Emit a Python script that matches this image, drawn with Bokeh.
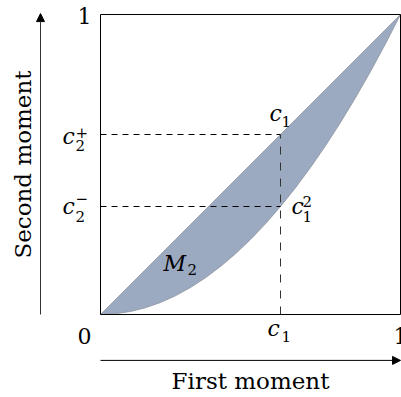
import math
from bokeh.plotting import figure
from bokeh.models import Range1d, Arrow, NormalHead
from bokeh.core.properties import value
from bokeh.embed import file_html
from bokeh.resources import INLINE

# ---- data ----
c1 = 0.6
curve_x = [0.0, 0.05, 0.1, 0.15, 0.2, 0.25, 0.3, 0.35, 0.4, 0.45, 0.5,
           0.55, 0.6, 0.65, 0.7, 0.75, 0.8, 0.85, 0.9, 0.95, 1.0]
upper_y = [0.0, 0.05, 0.1, 0.15, 0.2, 0.25, 0.3, 0.35, 0.4, 0.45, 0.5,
           0.55, 0.6, 0.65, 0.7, 0.75, 0.8, 0.85, 0.9, 0.95, 1.0]
lower_y = [0.0, 0.0025, 0.01, 0.0225, 0.04, 0.0625, 0.09, 0.1225, 0.16, 0.2025, 0.25,
           0.3025, 0.36, 0.4225, 0.49, 0.5625, 0.64, 0.7225, 0.81, 0.9025, 1.0]
x_tick_labels = ["0", "c", "1"]
y_tick_labels = ["1", "c", "c"]
x_title = "First moment"
y_title = "Second moment"
region_label = "M"

FONT = value("'DejaVu Serif', 'Liberation Serif', serif")
W, H = 401, 397
PAD_L, PAD_T, SIDE = 100, 14, 300

p = figure(width=W, height=H, output_backend="svg", toolbar_location=None,
           x_range=Range1d(-PAD_L / SIDE, (W - PAD_L) / SIDE),
           y_range=Range1d(1 - (H - PAD_T) / SIDE, 1 + PAD_T / SIDE),
           x_axis_type=None, y_axis_type=None, min_border=0,
           outline_line_color=None, background_fill_color="white",
           border_fill_color="white")

# shaded region between y = x and y = x^2
p.varea(x=curve_x, y1=lower_y, y2=upper_y, fill_color="#9ba9c1")
p.line(curve_x, lower_y, line_color="#8e949e", line_width=0.8)
p.line(curve_x, upper_y, line_color="#8e949e", line_width=0.8)

# frame
p.quad(left=[0], right=[1], bottom=[0], top=[1], fill_color=None,
       line_color="black", line_width=1)

# dashed guide lines
p.line([0, c1], [c1, c1], line_color="black", line_width=1, line_dash="6 5")
p.line([0, c1], [c1 ** 2, c1 ** 2], line_color="black", line_width=1, line_dash="6 5")
p.line([c1, c1], [0, c1], line_color="#333333", line_width=1, line_dash="8 8")

# arrows
p.add_layout(Arrow(end=NormalHead(size=8, fill_color="black", line_color="black"),
                   x_start=-0.2, y_start=0, x_end=-0.2, y_end=1.003,
                   line_color="#333333", line_width=1))
p.add_layout(Arrow(end=NormalHead(size=8, fill_color="black", line_color="black"),
                   x_start=0, y_start=-0.153, x_end=1.0, y_end=-0.153,
                   line_color="black", line_width=1))


def put(x, y, txt, dx, dy, size, italic=False, align="left", angle=0.0):
    shift = round(0.3 * size)
    if angle:
        dx -= shift
    else:
        dy -= shift
    p.text(x=[x], y=[y], text=[txt], x_offset=dx, y_offset=dy,
           text_font=FONT, text_font_size=f"{size}px",
           text_font_style="italic" if italic else "normal",
           text_align=align, text_baseline="alphabetic",
           text_color="black", angle=angle)


BIG, SMALL, TITLE = 22, 15, 23

# y tick labels
put(0, 1, y_tick_labels[0], -16, 8, BIG, align="center")
put(0, c1, y_tick_labels[1], -38, 9, BIG, italic=True)
put(0, c1, "2", -25, 15, SMALL)
put(0, c1, "+", -25, 2, SMALL)
put(0, c1 ** 2, y_tick_labels[2], -38, 7, BIG, italic=True)
put(0, c1 ** 2, "2", -25, 14, SMALL)
put(0, c1 ** 2, "\u2212", -25, -4, SMALL)

# x tick labels
put(0, 0, x_tick_labels[0], -16, 28, BIG, align="center")
put(c1, 0, x_tick_labels[1], -13, 21, BIG, italic=True)
put(c1, 0, "1", 1, 26, SMALL)
put(1, 0, x_tick_labels[2], 0, 28, BIG, align="center")

# point labels
put(c1, c1, "c", -11, -14, BIG, italic=True)
put(c1, c1, "1", 1, -9, SMALL)
put(c1, c1 ** 2, "c", 11, 7, BIG, italic=True)
put(c1, c1 ** 2, "1", 22, 14, SMALL)
put(c1, c1 ** 2, "2", 22, -1, SMALL)

# region label
put(0.21, 0.15, region_label, 0, 1, BIG, italic=True)
put(0.21, 0.15, "2", 24, 4, SMALL)

# titles
put(0.5, 0, x_title, 0, 73, TITLE, align="center")
put(0, 0.5, y_title, -71, 0, TITLE, align="center", angle=math.pi / 2)

open("out.html", "w").write(file_html(p, INLINE))
